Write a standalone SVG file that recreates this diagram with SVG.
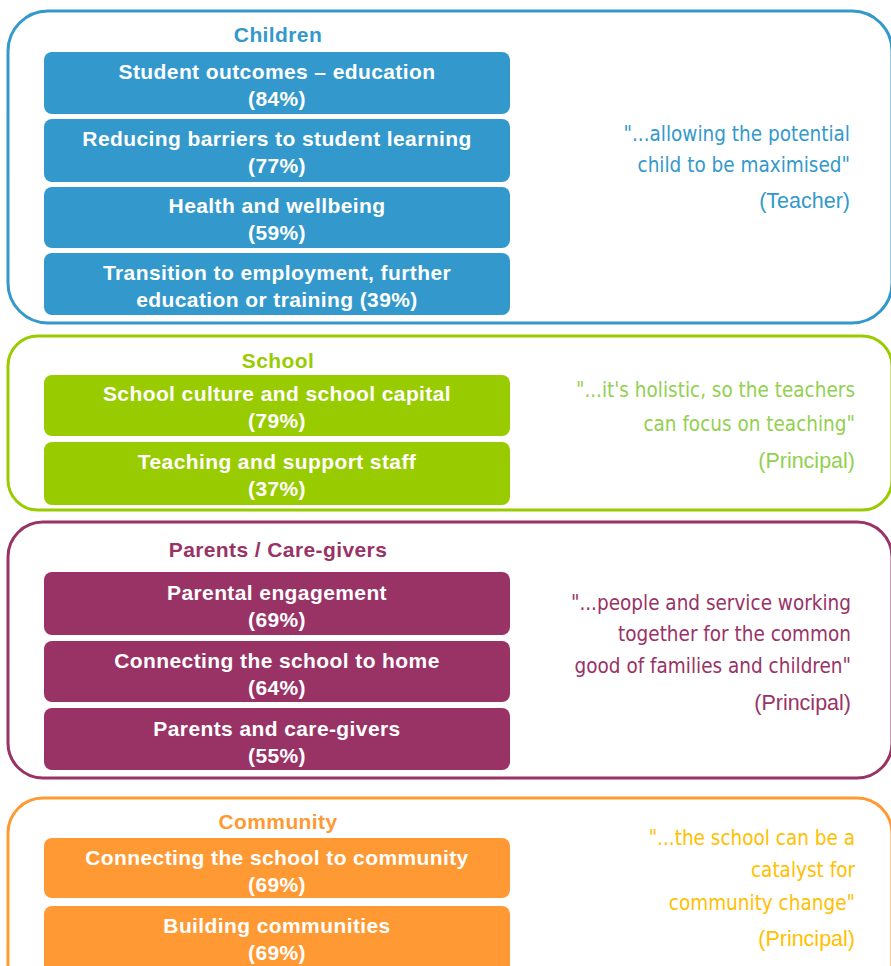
<svg xmlns="http://www.w3.org/2000/svg" width="891" height="966" viewBox="0 0 891 966">
<style>
.outer{fill:none;stroke-width:3}
.item text{fill:#fff;font-family:"Liberation Sans",Arial,sans-serif;font-weight:bold;font-size:21px;letter-spacing:0.4px;text-anchor:middle}
.title{font-family:"Liberation Sans",Arial,sans-serif;font-weight:bold;font-size:21px;letter-spacing:0.4px;text-anchor:middle}
.quote{font-family:"DejaVu Sans Condensed","Liberation Sans Narrow",sans-serif;font-size:20.5px;text-anchor:end}
.who{font-family:"Liberation Sans",Arial,sans-serif;font-size:21.5px;text-anchor:end}
.blue{fill:#3399cc}.green{fill:#99cc00}.purple{fill:#993366}.orange{fill:#ff9933}
</style>
<rect width="891" height="966" fill="#fff"/>
<g id="connectors"/>
<g id="children">
<rect class="outer" x="8" y="11" width="884" height="312" rx="40" stroke="#3399cc"/>
<text class="title blue" x="278" y="42">Children</text>
<g class="item"><rect class="blue" x="44" y="52" width="466" height="62" rx="8"/><text x="277" y="79">Student outcomes – education</text><text x="277" y="106">(84%)</text></g>
<g class="item"><rect class="blue" x="44" y="119" width="466" height="63" rx="8"/><text x="277" y="146">Reducing barriers to student learning</text><text x="277" y="173">(77%)</text></g>
<g class="item"><rect class="blue" x="44" y="187" width="466" height="61" rx="8"/><text x="277" y="213">Health and wellbeing</text><text x="277" y="240">(59%)</text></g>
<g class="item"><rect class="blue" x="44" y="253" width="466" height="62" rx="8"/><text x="277" y="280">Transition to employment, further</text><text x="277" y="307">education or training (39%)</text></g>
<text class="quote" x="850" y="141" fill="#3399cc">"...allowing the potential</text>
<text class="quote" x="850" y="172" fill="#3399cc">child to be maximised"</text>
<text class="who" x="850" y="208" fill="#3399cc">(Teacher)</text>
</g>
<g id="school">
<rect class="outer" x="8" y="336" width="884" height="174" rx="30" stroke="#99cc00"/>
<text class="title green" x="278" y="368">School</text>
<g class="item"><rect class="green" x="44" y="375" width="466" height="61" rx="8"/><text x="277" y="401">School culture and school capital</text><text x="277" y="428">(79%)</text></g>
<g class="item"><rect class="green" x="44" y="442" width="466" height="63" rx="8"/><text x="277" y="469">Teaching and support staff</text><text x="277" y="496">(37%)</text></g>
<text class="quote" x="855" y="397" fill="#92d050">"...it's holistic, so the teachers</text>
<text class="quote" x="855" y="431" fill="#92d050">can focus on teaching"</text>
<text class="who" x="855" y="468" fill="#92d050">(Principal)</text>
</g>
<g id="parents">
<rect class="outer" x="8" y="522" width="884" height="256" rx="35" stroke="#993366"/>
<text class="title purple" x="278" y="557">Parents / Care-givers</text>
<g class="item"><rect class="purple" x="44" y="572" width="466" height="63" rx="8"/><text x="277" y="600">Parental engagement</text><text x="277" y="627">(69%)</text></g>
<g class="item"><rect class="purple" x="44" y="641" width="466" height="61" rx="8"/><text x="277" y="668">Connecting the school to home</text><text x="277" y="695">(64%)</text></g>
<g class="item"><rect class="purple" x="44" y="708" width="466" height="62" rx="8"/><text x="277" y="736">Parents and care-givers</text><text x="277" y="763">(55%)</text></g>
<text class="quote" x="851" y="610" fill="#993366">"...people and service working</text>
<text class="quote" x="851" y="641" fill="#993366">together for the common</text>
<text class="quote" x="851" y="673" fill="#993366">good of families and children"</text>
<text class="who" x="851" y="710" fill="#993366">(Principal)</text>
</g>
<g id="community">
<rect class="outer" x="8" y="798" width="884" height="220" rx="35" stroke="#ff9933"/>
<text class="title orange" x="278" y="829">Community</text>
<g class="item"><rect class="orange" x="44" y="838" width="466" height="60" rx="8"/><text x="277" y="865">Connecting the school to community</text><text x="277" y="892">(69%)</text></g>
<g class="item"><rect class="orange" x="44" y="906" width="466" height="70" rx="8"/><text x="277" y="933">Building communities</text><text x="277" y="960">(69%)</text></g>
<text class="quote" x="855" y="845" fill="#ffc000">"...the school can be a</text>
<text class="quote" x="855" y="877" fill="#ffc000">catalyst for</text>
<text class="quote" x="855" y="910" fill="#ffc000">community change"</text>
<text class="who" x="855" y="946" fill="#ffc000">(Principal)</text>
</g>
</svg>
